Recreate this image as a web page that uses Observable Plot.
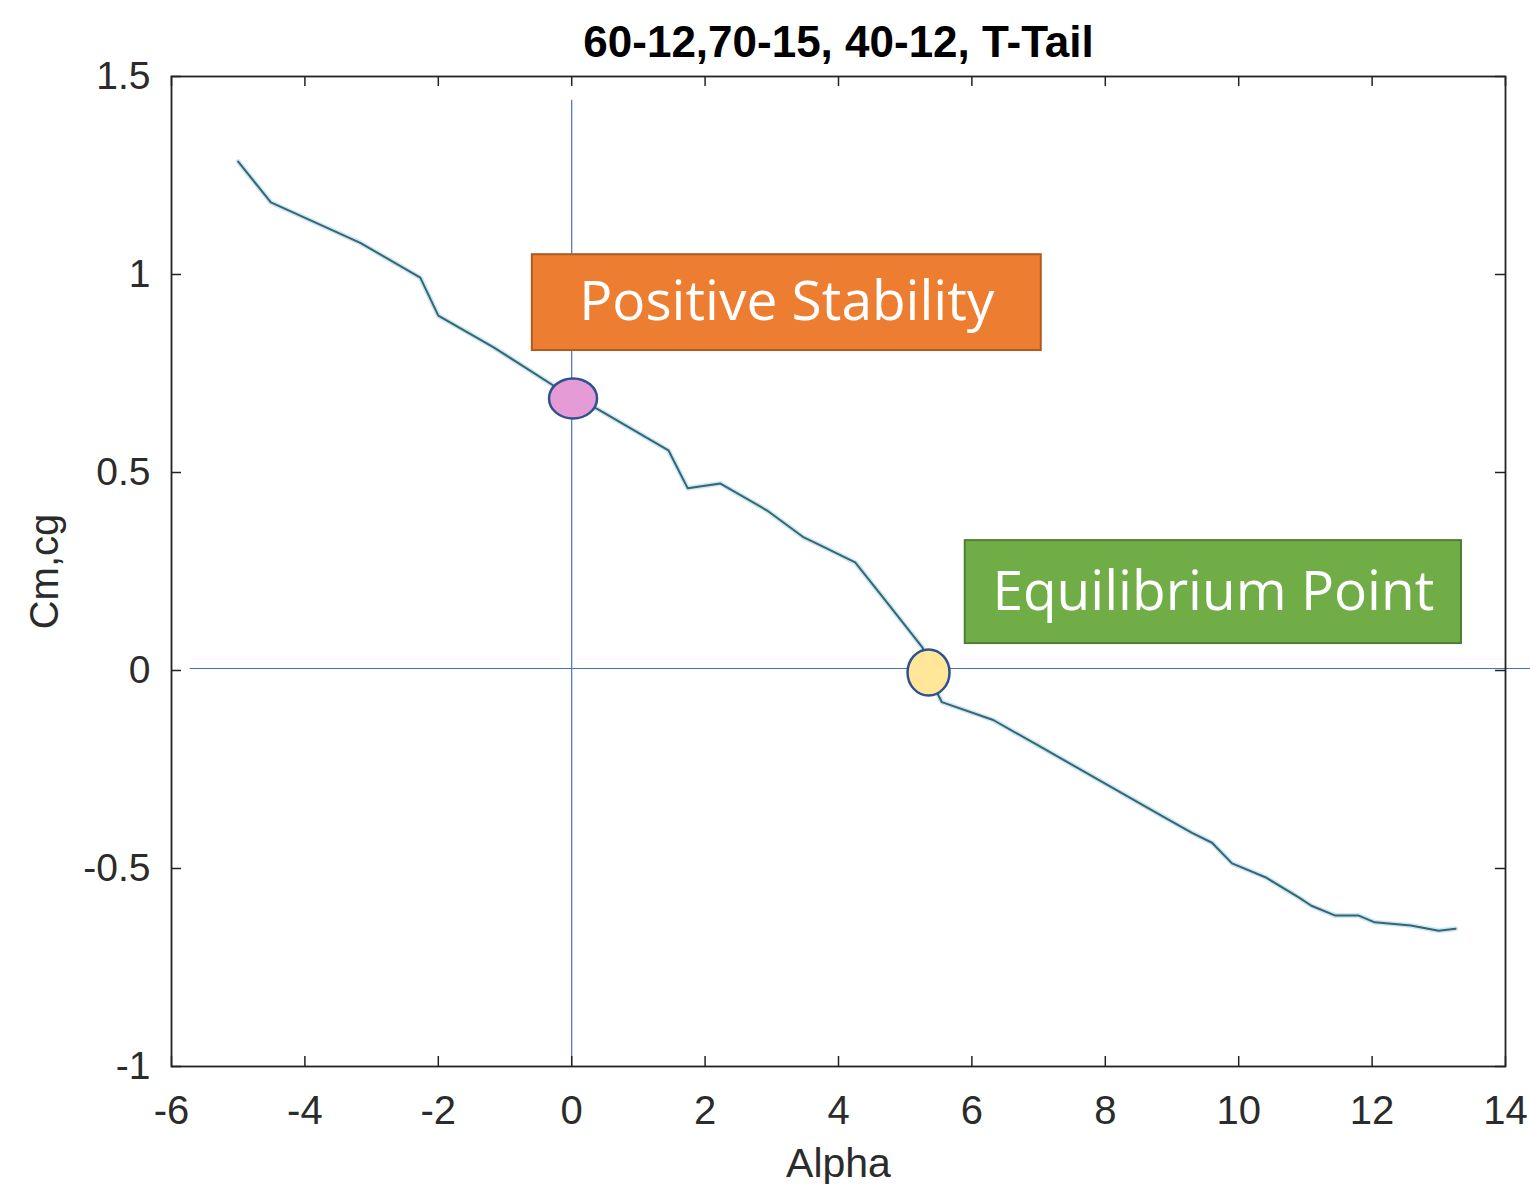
<!DOCTYPE html>
<html>
<head>
<meta charset="utf-8">
<script src="https://cdn.jsdelivr.net/npm/d3@7"></script>
<script src="https://cdn.jsdelivr.net/npm/@observablehq/plot@0.6"></script>
<style>
  html, body { margin: 0; padding: 0; background: #fff; }
</style>
</head>
<body>
<div id="chart"></div>
<script>
// ---- data ----
const titleText = "60-12,70-15, 40-12, T-Tail";
const alpha = [-5.0, -4.51, -3.17, -2.27, -2.0, -1.17, 0.0, 0.39, 1.45, 1.74, 2.23, 2.93, 3.48, 3.73, 4.25, 4.67, 5.26, 5.49, 5.55, 6.32, 7.0, 8.88, 9.3, 9.6, 9.9, 10.4, 10.9, 11.09, 11.45, 11.8, 12.04, 12.58, 13.0, 13.25];
const cmcg  = [1.285, 1.182, 1.08, 0.992, 0.896, 0.816, 0.69, 0.66, 0.556, 0.46, 0.472, 0.404, 0.336, 0.316, 0.273, 0.184, 0.058, -0.06, -0.08, -0.125, -0.19, -0.37, -0.41, -0.435, -0.487, -0.522, -0.573, -0.594, -0.619, -0.619, -0.636, -0.644, -0.657, -0.652];
const xTicks = [-6, -4, -2, 0, 2, 4, 6, 8, 10, 12, 14];
const xTickLabels = ["-6", "-4", "-2", "0", "2", "4", "6", "8", "10", "12", "14"];
const yTicks = [-1, -0.5, 0, 0.5, 1, 1.5];
const yTickLabels = ["-1", "-0.5", "0", "0.5", "1", "1.5"];
const boxLabels = ["Positive Stability", "Equilibrium Point"];
const boxX1 = [-0.59, 5.90];
const boxX2 = [7.04, 13.34];
const boxY1 = [1.05, 0.328];
const boxY2 = [0.808, 0.068];
const markerNames = ["Positive Stability", "Equilibrium Point"];
const markerAlpha = [0.02, 5.35];
const markerCm = [0.687, -0.005];

// ---- tables ----
const curve = alpha.map((a, i) => ({alpha: a, cm: cmcg[i]}));
const boxes = boxLabels.map((t, i) => ({text: t, x1: boxX1[i], x2: boxX2[i], y1: boxY1[i], y2: boxY2[i]}));
const markers = markerNames.map((n, i) => ({name: n, alpha: markerAlpha[i], cm: markerCm[i]}));

function ellipseSymbol(kx, ky) {
  return {draw(ctx, size) {
    const r = Math.sqrt(size / Math.PI), a = r * kx, b = r * ky, k = 0.5523;
    ctx.moveTo(a, 0);
    ctx.bezierCurveTo(a, k * b, k * a, b, 0, b);
    ctx.bezierCurveTo(-k * a, b, -a, k * b, -a, 0);
    ctx.bezierCurveTo(-a, -k * b, -k * a, -b, 0, -b);
    ctx.bezierCurveTo(k * a, -b, a, -k * b, a, 0);
    ctx.closePath();
  }};
}

const W = 1530, H = 1184, mL = 171, mR = 25, mT = 76, mB = 118;
const fw = W - mL - mR, fh = H - mT - mB, tl = 10;
const font = "Liberation Sans, Arial, sans-serif";
const grey = "#2b2b2b";

const chart = Plot.plot({
  width: W, height: H,
  marginLeft: mL, marginRight: mR, marginTop: mT, marginBottom: mB,
  style: {fontFamily: font, background: "#fff"},
  x: {domain: [-6, 14], nice: false},
  y: {domain: [-1, 1.5], nice: false},
  marks: [
    // title
    Plot.text([titleText], {frameAnchor: "top", lineAnchor: "bottom", dy: -20, fontSize: 44, fontWeight: "bold", fill: "#000"}),
    // crosshair
    Plot.ruleX([0], {y1: 1.44, y2: -1, stroke: "#4472c4", strokeWidth: 1.2}),
    Plot.ruleY([0], {x1: -5.72, x2: 14.4, stroke: "#4472c4", strokeWidth: 1.2, dy: -2}),
    // inward ticks (bottom, top, left, right)
    Plot.tickX(xTicks, {x: d => d, insetTop: fh - tl, stroke: "#222", strokeWidth: 1.5}),
    Plot.tickX(xTicks, {x: d => d, insetBottom: fh - tl, stroke: "#222", strokeWidth: 1.5}),
    Plot.tickY(yTicks, {y: d => d, insetRight: fw - tl, stroke: "#222", strokeWidth: 1.5}),
    Plot.tickY(yTicks, {y: d => d, insetLeft: fw - tl, stroke: "#222", strokeWidth: 1.5}),
    Plot.axisX(xTicks, {tickSize: 0, tickPadding: 29, fontSize: 40, fill: grey, label: null,
      tickFormat: d => xTickLabels[xTicks.indexOf(d)]}),
    Plot.axisY(yTicks, {tickSize: 0, tickPadding: 21, fontSize: 39, fill: grey, label: null,
      tickFormat: d => yTickLabels[yTicks.indexOf(d)]}),
    Plot.frame({stroke: "#222", strokeWidth: 1.8}),
    // axis titles
    Plot.text(["Alpha"], {frameAnchor: "bottom", lineAnchor: "bottom", dy: 110, fontSize: 41, fill: grey}),
    Plot.text(["Cm,cg"], {frameAnchor: "left", textAnchor: "middle", rotate: -90, dx: -126, fontSize: 40, fill: grey}),
    // data curve
    Plot.line(curve, {x: "alpha", y: "cm", stroke: "#c6e9f5", strokeWidth: 5}),
    Plot.line(curve, {x: "alpha", y: "cm", stroke: "#3d6270", strokeWidth: 2}),
    // annotations
    Plot.rect(boxes.slice(0, 1), {x1: "x1", x2: "x2", y1: "y1", y2: "y2", fill: "#ed7d31", stroke: "#ae5a21", strokeWidth: 2}),
    Plot.rect(boxes.slice(1), {x1: "x1", x2: "x2", y1: "y1", y2: "y2", fill: "#70ad47", stroke: "#507e32", strokeWidth: 2}),
    Plot.text(boxes, {x: d => (d.x1 + d.x2) / 2, y: d => (d.y1 + d.y2) / 2, text: "text", fill: "#fff",
      fontSize: 55, fontFamily: "Open Sans, Noto Sans, sans-serif"}),
    Plot.dot(markers.slice(0, 1), {x: "alpha", y: "cm", r: 22, symbol: ellipseSymbol(24/22, 20/22),
      fill: "#e49bd6", stroke: "#2f528f", strokeWidth: 2.5}),
    Plot.dot(markers.slice(1), {x: "alpha", y: "cm", r: 22, symbol: ellipseSymbol(21/22, 23/22),
      fill: "#ffe699", stroke: "#2f528f", strokeWidth: 2.5})
  ]
});
document.getElementById("chart").appendChild(chart);
</script>
</body>
</html>
